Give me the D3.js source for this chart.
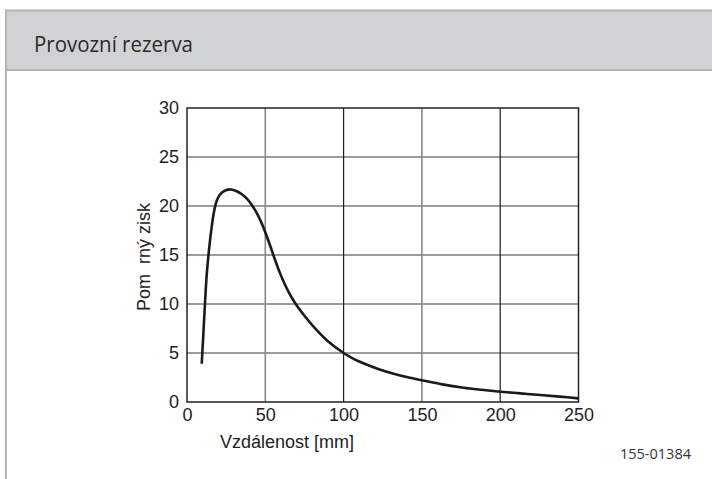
<!DOCTYPE html>
<html>
<head>
<meta charset="utf-8">
<script src="https://cdn.jsdelivr.net/npm/d3@7"></script>
<style>
  html, body { margin: 0; padding: 0; background: #fff; }
  svg { display: block; }
</style>
</head>
<body>
<svg id="chart" width="712" height="479"></svg>
<script>
const title = "Provozní rezerva";
const xLabel = "Vzdálenost [mm]";
const yLabel = "Pom  rný zisk";
const figCode = "155-01384";

const xTicks = [0, 50, 100, 150, 200, 250];
const yTicks = [0, 5, 10, 15, 20, 25, 30];

const distance = [9.4, 10.3, 11.5, 12.5, 13.6, 14.7, 15.8, 17, 18.5, 20.2, 22.2, 24.8, 27.5, 31, 35, 38.5, 41.4, 44.5, 47.8, 50.5, 53, 56, 59.5, 64, 69, 75, 80.8, 90, 100, 107, 115, 123, 132, 141, 150.5, 163, 176.7, 188, 200.3, 213, 225.7, 238, 250];
const gain = [3.9, 6.5, 10.1, 12.8, 14.8, 16.5, 17.9, 19.2, 20.3, 20.95, 21.35, 21.6, 21.7, 21.55, 21.2, 20.7, 20.1, 19.3, 18.2, 17.1, 16.0, 14.6, 13.1, 11.5, 10.1, 8.8, 7.7, 6.2, 5.0, 4.35, 3.8, 3.32, 2.88, 2.52, 2.2, 1.8, 1.46, 1.25, 1.05, 0.88, 0.71, 0.55, 0.37];

const svg = d3.select("#chart");

// Card
svg.append("rect").attr("x", 6).attr("y", 11).attr("width", 712).attr("height", 59).attr("fill", "#d1d2d4");
svg.append("line").attr("x1", 5).attr("x2", 712).attr("y1", 10.5).attr("y2", 10.5).attr("stroke", "#b4b4b6").attr("stroke-width", 2);
svg.append("line").attr("x1", 5).attr("x2", 712).attr("y1", 70).attr("y2", 70).attr("stroke", "#b4b4b6").attr("stroke-width", 2);
svg.append("line").attr("x1", 6).attr("x2", 6).attr("y1", 9.5).attr("y2", 479).attr("stroke", "#b4b4b6").attr("stroke-width", 2);

svg.append("text").attr("x", 34).attr("y", 51.5)
  .attr("font-family", "'Open Sans', sans-serif").attr("font-size", 22).attr("fill", "#2a2a2a")
  .attr("textLength", 159).attr("lengthAdjust", "spacingAndGlyphs")
  .text(title);

// Scales
const x = d3.scaleLinear().domain([0, 250]).range([187, 578.5]);
const y = d3.scaleLinear().domain([0, 30]).range([402, 108]);

const g = svg.append("g");

// Horizontal grid
g.selectAll(".hg").data(yTicks.slice(1, -1)).enter().append("line")
  .attr("x1", x(0)).attr("x2", x(250)).attr("y1", d => y(d)).attr("y2", d => y(d))
  .attr("stroke", "#3a3a3a").attr("stroke-width", 1.2);
// Vertical grid
g.selectAll(".vg").data(xTicks.slice(1, -1)).enter().append("line")
  .attr("x1", d => x(d)).attr("x2", d => x(d)).attr("y1", y(0)).attr("y2", y(30))
  .attr("stroke", d => (d % 100 === 0) ? "#1e1e1e" : "#888")
  .attr("stroke-width", d => (d % 100 === 0) ? 1.2 : 1.6);

// Frame
g.append("rect").attr("x", x(0)).attr("y", y(30)).attr("width", x(250) - x(0)).attr("height", y(0) - y(30))
  .attr("fill", "none").attr("stroke", "#222").attr("stroke-width", 1.5);

// Axes (labels via d3 axes)
const xAxis = d3.axisBottom(x).tickValues(xTicks).tickSize(0).tickPadding(5);
const yAxis = d3.axisLeft(y).tickValues(yTicks).tickSize(0).tickPadding(8);

const xg = svg.append("g").attr("transform", `translate(0,${y(0) + 1})`).call(xAxis);
const yg = svg.append("g").attr("transform", `translate(${x(0)},0)`).call(yAxis);
[xg, yg].forEach(a => {
  a.select(".domain").remove();
  a.selectAll("text").attr("font-family", "'Liberation Sans', Arial, sans-serif").attr("font-size", 18).attr("fill", "#222");
});

// Curve
const line = d3.line().x((d, i) => x(distance[i])).y(d => y(d)).curve(d3.curveCatmullRom.alpha(0.5));
svg.append("path").datum(gain).attr("d", line)
  .attr("fill", "none").attr("stroke", "#1a1a1a").attr("stroke-width", 2.6).attr("stroke-linejoin", "round");

// Axis titles
svg.append("text").attr("x", 287).attr("y", 448).attr("text-anchor", "middle")
  .attr("font-family", "'Liberation Sans', Arial, sans-serif").attr("font-size", 18).attr("fill", "#222")
  .text(xLabel);
svg.append("text").attr("transform", "translate(150,257) rotate(-90)").attr("text-anchor", "middle")
  .attr("font-family", "'Liberation Sans', Arial, sans-serif").attr("font-size", 18).attr("fill", "#222")
  .attr("xml:space", "preserve").style("white-space", "pre")
  .text(yLabel);

svg.append("text").attr("x", 691).attr("y", 459).attr("text-anchor", "end")
  .attr("font-family", "'Open Sans', sans-serif").attr("font-size", 14.5).attr("fill", "#333")
  .text(figCode);
</script>
</body>
</html>
